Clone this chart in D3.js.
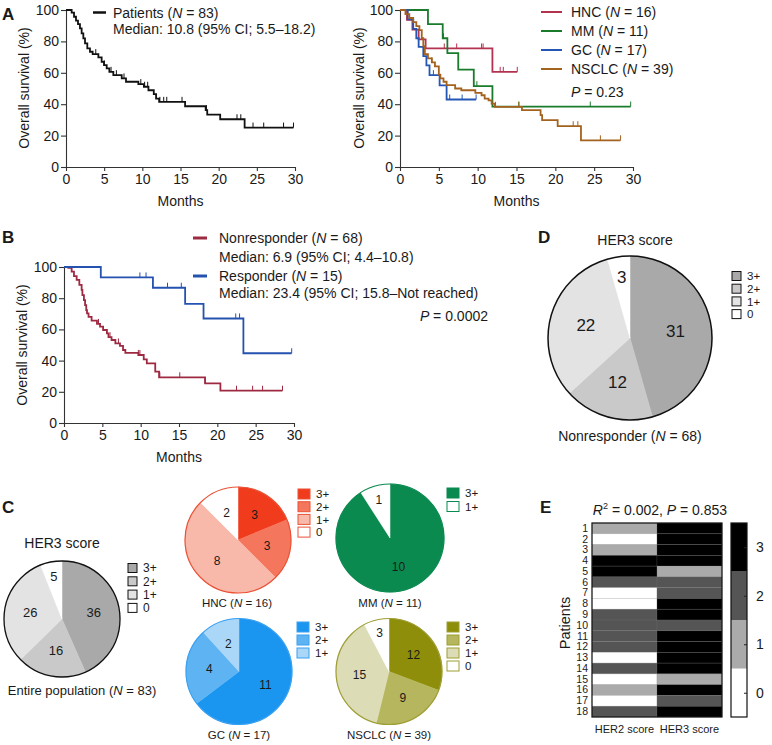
<!DOCTYPE html>
<html><head><meta charset="utf-8">
<script src="https://cdn.jsdelivr.net/npm/d3@7"></script>
<style>body{margin:0;background:#fff}svg{display:block;font-family:"Liberation Sans",Arial,sans-serif}</style>
</head><body><svg id="c" width="772" height="745"></svg>
<script>
// ---------- DATA ----------
const monthTicks=[0,5,10,15,20,25,30];
const survivalTicks=[0,20,40,60,80,100];
// A (all patients)
const allTimes=[0,0.74,1.05,1.31,1.57,1.83,2.05,2.27,2.49,2.79,3.14,3.49,4.24,4.67,4.98,5.33,5.68,6.2,7.3,7.86,9.48,10.2,10.8,11.5,11.8,12.2,15.6,18.3,18.5,20.2,23.4];
const allSurv=[100,98.3,95.7,93.2,91,88.3,85.1,81.9,78.7,75.5,73.4,71.9,69.8,67,64.9,62.8,60.6,58.5,56.4,54.3,52.8,51.1,48.9,46.4,43.6,41.5,38.7,36.2,33.4,30.4,25.1];
const allCensor=[3.9,5.0,5.9,6.6,7.6,9.8,10.3,10.7,12.3,12.8,13.2,15.2,18.4,22.4,22.9,24.5,25.9,28.5,29.8];
// A (by tumour type)
const hncTimes=[0,0.9,1.6,2.4,3.3,11.9];
const hncSurv=[100,93.75,87.5,81.25,75.5,60.6];
const hncCensor=[5.7,7.3,10.5,10.7,12.9,13.3,15.1];
const mmTimes=[0,3.6,5.5,6.1,7.5,9.5,11.9];
const mmSurv=[100,91,82,72.5,62,51.5,38.5];
const mmCensor=[5.6,9.9,15.3,24.5,29.7];
const gcTimes=[0,1.0,1.7,2.1,2.4,3.0,3.4,3.8,5.1,6.0];
const gcSurv=[100,94,88,82,76.5,70.6,64.7,58.5,52,43];
const gcCensor=[4.3,6.4,8.0,9.8];
const nsclcTimes=[0,0.7,1.2,1.7,2.1,2.5,2.8,3.0,3.2,3.6,4.1,4.5,5.0,5.2,5.6,6.0,7.1,7.9,9.7,10.5,10.9,11.4,11.8,12.2,15.7,18.1,18.3,20.3,23.3];
const nsclcSurv=[100,97.4,94.9,92.3,89.7,87.2,82,77,71.8,69.2,66.7,64.1,58.9,56.4,54.3,52.1,50,48.9,47.2,45.7,43.6,42.5,40.4,38.3,36.2,33,29.8,26,17];
const nsclcCensor=[4.1,12.3,15.3,22.3,22.9,25.8,28.4];
// B
const nonTimes=[0,0.57,1.0,1.3,1.65,2.0,2.3,2.4,2.6,2.75,2.9,3.0,3.2,3.6,4.3,4.7,5.1,5.6,5.8,6.2,6.7,7.3,7.7,8.0,9.7,10.4,10.8,11.9,12.4,18.4,20.4];
const nonSurv=[100,99.5,97,94.2,91.7,88.5,85.3,82,78.8,75.6,72.4,70.3,68,65.6,63.5,61.8,59.6,57.5,55,53.2,51,49.4,46.8,45,43.6,40.8,38.2,32.9,29.3,25.4,20.7];
const nonCensor=[4.5,6.0,7.1,9.7,9.9,12.5,15.1,18.4,22.5,24.6,25.9,28.5];
const respTimes=[0,4.8,11.6,15.8,18.2,23.4];
const respSurv=[100,93.3,86.7,76.3,67,44.7];
const respCensor=[9.9,10.7,13.5,15.3,22.4,22.9,29.7];
// C / D pies
const scoreLabels=["3+","2+","1+","0"];
const entireCounts=[36,16,26,5];
const nonresponderCounts=[31,12,22,3];
const hncCounts=[3,3,8,2];
const mmCounts=[10,1];
const mmLabels=["3+","1+"];
const gcCounts=[11,4,2];
const gcLabels=["3+","2+","1+"];
const nsclcCounts=[12,9,15,3];
// E heatmap
const patientIds=d3.range(1,19);
const her2Scores=[1,0,1,3,3,2,0,0,2,2,2,2,0,2,0,1,0,2];
const her3Scores=[3,3,3,3,1,2,2,3,3,2,3,3,3,3,1,3,2,3];
const scoreLevels=[0,1,2,3];
const heatColumns=["HER2 score","HER3 score"];

// ---------- DRAW ----------
const svg=d3.select("#c");
svg.append("rect").attr("width",772).attr("height",745).attr("fill","#fff");
const TXT="#1a1a1a", AX="#333";

function rich(sel,parts){parts.forEach(p=>{const t=sel.append("tspan").text(p[0]);if(p[1])t.attr("font-style","italic");});return sel;}
function label(x,y,parts,opts={}){const t=svg.append("text").attr("x",x).attr("y",y).attr("font-size",opts.size||14).attr("fill",TXT).attr("text-anchor",opts.anchor||"start");if(opts.weight)t.attr("font-weight",opts.weight);return rich(t,parts);}

function axes(x,y,ylabX,ylabY){
  const gx=svg.append("g").attr("transform",`translate(0,${y.range()[0]})`).call(d3.axisBottom(x).tickValues(monthTicks).tickSize(4).tickSizeOuter(0).tickPadding(3));
  const gy=svg.append("g").attr("transform",`translate(${x.range()[0]},0)`).call(d3.axisLeft(y).tickValues(survivalTicks).tickSize(5).tickSizeOuter(0).tickPadding(2));
  [gx,gy].forEach(g=>{g.select(".domain").attr("stroke",AX).attr("stroke-width",1.1);g.selectAll(".tick line").attr("stroke",AX).attr("stroke-width",1.1);g.selectAll("text").attr("font-size",14).attr("fill",TXT).attr("font-family","Liberation Sans, Arial, sans-serif");});
  svg.append("text").attr("transform",`translate(${ylabX},${ylabY}) rotate(-90)`).attr("text-anchor","middle").attr("font-size",14).attr("fill",TXT).text("Overall survival (%)");
  svg.append("text").attr("x",(x.range()[0]+x.range()[1])/2).attr("y",y.range()[0]+39).attr("text-anchor","middle").attr("font-size",14).attr("fill",TXT).text("Months");
}
function km(x,y,times,surv,censor,color){
  const end=Math.max(d3.max(censor),d3.max(times));
  const pts=times.map((t,i)=>[t,surv[i]]);pts.push([end,surv[surv.length-1]]);
  svg.append("path").attr("d",d3.line().x(d=>x(d[0])).y(d=>y(d[1])).curve(d3.curveStepAfter)(pts)).attr("fill","none").attr("stroke",color).attr("stroke-width",1.8);
  const at=t=>{let s=surv[0];times.forEach((tt,i)=>{if(tt<=t)s=surv[i];});return s;};
  svg.append("g").selectAll("line").data(censor).join("line").attr("x1",d=>x(d)).attr("x2",d=>x(d)).attr("y1",d=>y(at(d))-5).attr("y2",d=>y(at(d))).attr("stroke",color).attr("stroke-width",1);
}

// Panel A left
const xA=d3.scaleLinear().domain([0,30]).range([66,295]);
const yA=d3.scaleLinear().domain([0,100]).range([167,10]);
axes(xA,yA,29,88);
km(xA,yA,allTimes,allSurv,allCensor,"#111");
svg.append("line").attr("x1",93).attr("x2",106).attr("y1",12.5).attr("y2",12.5).attr("stroke","#111").attr("stroke-width",2.5);
label(113,17.5,[["Patients ("],["N",1],[" = 83)"]]);
label(113,34,[["Median: 10.8 (95% CI; 5.5–18.2)"]]);

// Panel A right
const xA2=d3.scaleLinear().domain([0,30]).range([400,633]);
axes(xA2,yA,364,88);
const groups=[["HNC",hncTimes,hncSurv,hncCensor,"#b2324f","16"],["MM",mmTimes,mmSurv,mmCensor,"#1b7b2c","11"],["GC",gcTimes,gcSurv,gcCensor,"#2456b4","17"],["NSCLC",nsclcTimes,nsclcSurv,nsclcCensor,"#a3621e","39"]];
groups.forEach(g=>km(xA2,yA,g[1],g[2],g[3],g[4]));
groups.forEach((g,i)=>{const yy=12+i*19;svg.append("line").attr("x1",541).attr("x2",562).attr("y1",yy).attr("y2",yy).attr("stroke",g[4]).attr("stroke-width",2);
  label(571,yy+5,[[g[0]+" ("],["N",1],[" = "+g[5]+")"]]);});
label(571,97,[["P",1],[" = 0.23"]]);

// Panel B
const xB=d3.scaleLinear().domain([0,30]).range([64,294]);
const yB=d3.scaleLinear().domain([0,100]).range([423,267]);
axes(xB,yB,27,345);
km(xB,yB,nonTimes,nonSurv,nonCensor,"#9e2a42");
km(xB,yB,respTimes,respSurv,respCensor,"#2452b0");
svg.append("line").attr("x1",193).attr("x2",207).attr("y1",238).attr("y2",238).attr("stroke","#9e2a42").attr("stroke-width",3);
label(219,243,[["Nonresponder ("],["N",1],[" = 68)"]]);
label(219,262,[["Median: 6.9 (95% CI; 4.4–10.8)"]]);
svg.append("line").attr("x1",193).attr("x2",207).attr("y1",276).attr("y2",276).attr("stroke","#2452b0").attr("stroke-width",3);
label(219,281,[["Responder ("],["N",1],[" = 15)"]]);
label(219,298,[["Median: 23.4 (95% CI; 15.8–Not reached)"]]);
label(488,321,[["P",1],[" = 0.0002"]],{anchor:"end"});

// Pies
function pie(cx,cy,r,counts,colors,outline,ow,lab,lx,ly,lw,lh,lstep,lsize,numSize){
  const total=d3.sum(counts);
  const arcs=d3.pie().sort(null)(counts);
  const arc=d3.arc().innerRadius(0).outerRadius(r);
  const g=svg.append("g").attr("transform",`translate(${cx},${cy})`);
  g.selectAll("path").data(arcs).join("path").attr("d",arc).attr("fill",(d,i)=>colors[i]).attr("stroke",(d,i)=>colors[i]).attr("stroke-width",0.5);
  g.append("circle").attr("r",r).attr("fill","none").attr("stroke",outline).attr("stroke-width",ow);
  g.selectAll("text").data(arcs).join("text").each(function(d){
    const f=d.value/total<0.1?0.74:0.56;const a=(d.startAngle+d.endAngle)/2;
    d3.select(this).attr("x",Math.sin(a)*r*f).attr("y",-Math.cos(a)*r*f);})
    .attr("text-anchor","middle").attr("dominant-baseline","central").attr("font-size",numSize).attr("fill",TXT).text(d=>d.value);
  lab.forEach((t,i)=>{svg.append("rect").attr("x",lx).attr("y",ly+i*lstep-lh/2).attr("width",lw).attr("height",lh).attr("fill",colors[i]).attr("stroke",outline).attr("stroke-width",1);
    label(lx+lw+6,ly+i*lstep+lsize*0.36,[[t]],{size:lsize});});
}
const grayCols=["#a9a9a9","#c9c9c9","#e3e3e3","#ffffff"];
// D
label(538,243,[["D"]],{size:17,weight:900});
label(635,245,[["HER3 score"]],{anchor:"middle"});
pie(630,338,82,nonresponderCounts,grayCols,"#111",1.5,scoreLabels,732,276,9,9,12.7,11.5,17);
label(630,441,[["Nonresponder ("],["N",1],[" = 68)"]],{anchor:"middle"});
// C entire
label(2,513,[["C"]],{size:17,weight:900});
label(62,548,[["HER3 score"]],{anchor:"middle"});
pie(62,619,58,entireCounts,grayCols,"#111",1.3,scoreLabels,128,568,9,9,13.3,12,13);
label(82,695,[["Entire population ("],["N",1],[" = 83)"]],{anchor:"middle",size:13});
// subgroup pies
pie(238,540,53,hncCounts,["#f03b1d","#f4775d","#f8b8aa","#ffffff"],"#ea5236",1.2,scoreLabels,298,494,12,10,12.7,11.5,12);
label(237,607,[["HNC ("],["N",1],[" = 16)"]],{anchor:"middle",size:11.5});
pie(390,538,54,mmCounts,["#0b8a50","#ffffff"],"#0b8a50",1.2,mmLabels,447,493,12,10,13.5,11.5,12);
label(390,607,[["MM ("],["N",1],[" = 11)"]],{anchor:"middle",size:11.5});
pie(239,671.5,53,gcCounts,["#1a96f0","#5eb4f3","#aad7f8"],"#3aa0f0",1.2,gcLabels,297,627,12,10,13,11.5,12);
label(239,739,[["GC ("],["N",1],[" = 17)"]],{anchor:"middle",size:11.5});
pie(389,671.5,53,nsclcCounts,["#8e8e0b","#b6b65e","#dcdcb6","#ffffff"],"#9e9e35",1.2,scoreLabels,447,627,12,10,13,11.5,12);
label(389,739,[["NSCLC ("],["N",1],[" = 39)"]],{anchor:"middle",size:11.5});

// E heatmap
label(540,513,[["E"]],{size:17,weight:900});
const tE=svg.append("text").attr("x",660).attr("y",515).attr("text-anchor","middle").attr("font-size",14).attr("fill",TXT);
tE.append("tspan").attr("font-style","italic").text("R");
tE.append("tspan").attr("font-size",9).attr("dy",-6).text("2");
tE.append("tspan").attr("dy",6).text(" = 0.002, ");
tE.append("tspan").attr("font-style","italic").text("P");
tE.append("tspan").text(" = 0.853");
const yH=d3.scaleBand().domain(patientIds).range([523,717]);
const xH=d3.scaleBand().domain(heatColumns).range([592,722]);
const heatColor=d3.scaleOrdinal().domain(scoreLevels).range(["#ffffff","#aaaaaa","#555555","#000000"]);
const cells=[];patientIds.forEach((p,i)=>{cells.push([heatColumns[0],p,her2Scores[i]]);cells.push([heatColumns[1],p,her3Scores[i]]);});
svg.append("g").selectAll("rect").data(cells).join("rect").attr("x",d=>xH(d[0])).attr("y",d=>yH(d[1])).attr("width",xH.bandwidth()).attr("height",yH.bandwidth()).attr("fill",d=>heatColor(d[2])).attr("stroke","rgba(120,120,120,0.35)").attr("stroke-width",0.6);
svg.append("rect").attr("x",592).attr("y",523).attr("width",130).attr("height",194).attr("fill","none").attr("stroke","#111").attr("stroke-width",1.2);
const gyH=svg.append("g").attr("transform","translate(590,0)").call(d3.axisLeft(yH).tickSize(0).tickPadding(2));
gyH.select(".domain").remove();gyH.selectAll("text").attr("font-size",10.5).attr("fill",TXT).attr("font-family","Liberation Sans, Arial, sans-serif");
heatColumns.forEach(c=>label(xH(c)+xH.bandwidth()/2,733,[[c]],{anchor:"middle",size:11}));
svg.append("text").attr("transform","translate(570,623) rotate(-90)").attr("text-anchor","middle").attr("font-size",14.5).attr("fill",TXT).text("Patients");
const yC=d3.scaleLinear().domain([-0.5,3.5]).range([717,523]);
svg.append("g").selectAll("rect").data(scoreLevels).join("rect").attr("x",731).attr("y",d=>yC(d+0.5)).attr("width",16).attr("height",d=>yC(d-0.5)-yC(d+0.5)).attr("fill",d=>heatColor(d));
svg.append("rect").attr("x",731).attr("y",523).attr("width",16).attr("height",194).attr("fill","none").attr("stroke","#111").attr("stroke-width",1.2);
const gC=svg.append("g").attr("transform","translate(747,0)").call(d3.axisRight(yC).tickValues(scoreLevels).tickFormat(d3.format("d")).tickSize(-3).tickPadding(9));
gC.select(".domain").remove();gC.selectAll(".tick line").attr("stroke","#222");
gC.selectAll("text").attr("font-size",14).attr("fill",TXT).attr("font-family","Liberation Sans, Arial, sans-serif");

// panel letters
label(2,20,[["A"]],{size:17,weight:900});
label(2,243,[["B"]],{size:17,weight:900});
</script></body></html>
